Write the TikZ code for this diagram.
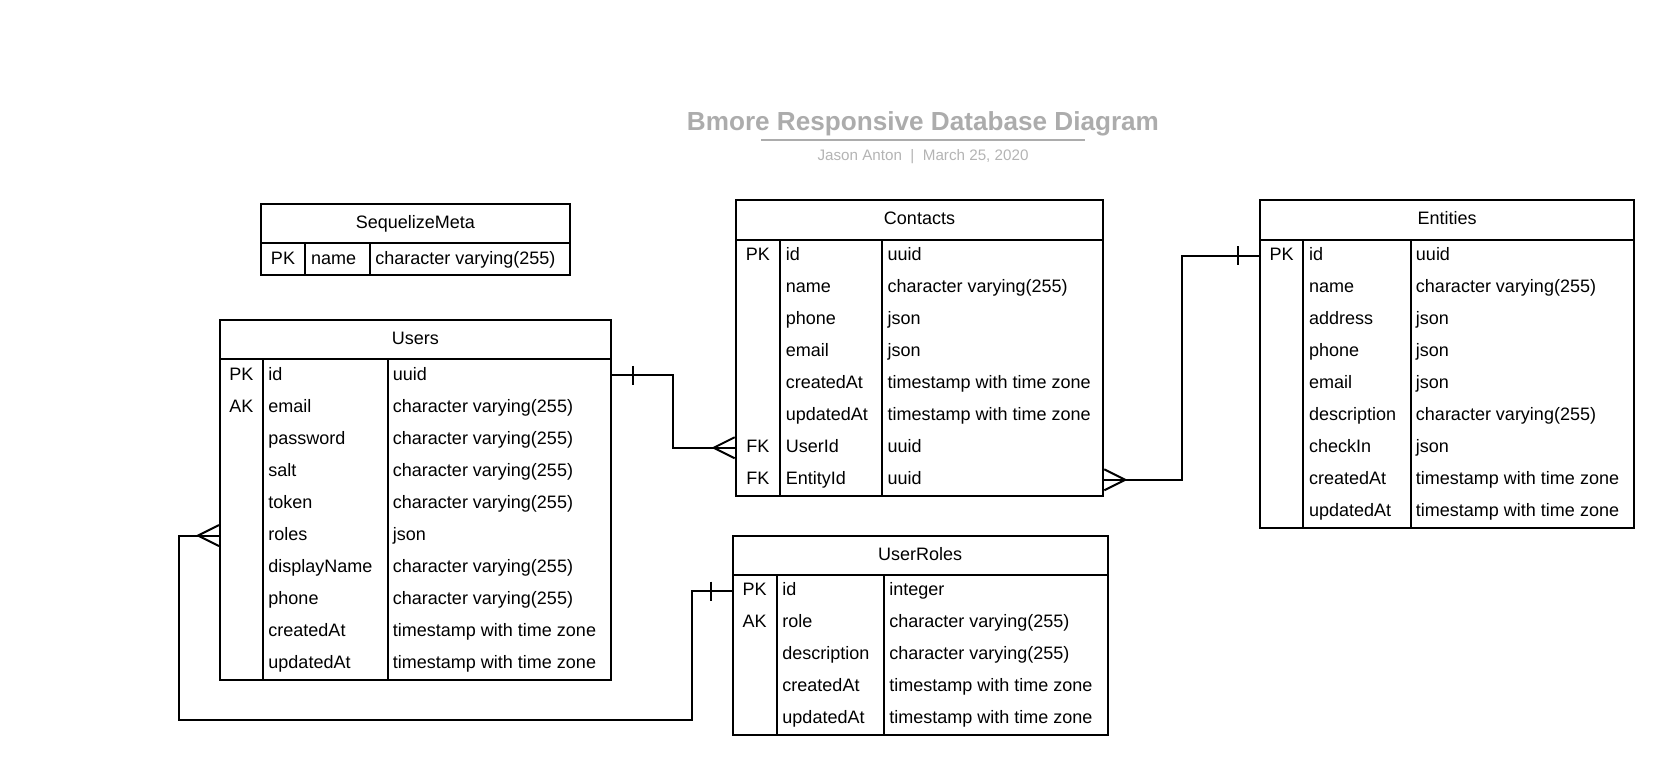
\documentclass[tikz,border=0pt]{standalone}
\usepackage{fontspec}
\setmainfont{Liberation Sans}
\usetikzlibrary{fit,calc}
\definecolor{titlegray}{RGB}{172,172,172}
\definecolor{subgray}{RGB}{180,180,180}
\tikzset{
  tableline/.style={line width=1.5pt,black},
  tablebox/.style={draw,line width=1.5pt,inner sep=0pt},
  conn/.style={line width=1.5pt,black},
  celltxt/.style={anchor=west,inner sep=0pt,font=\fontsize{13.5}{16}\selectfont,text height=0.716em,text depth=0pt},
  keytxt/.style={anchor=center,inner sep=0pt,font=\fontsize{13.5}{16}\selectfont,text height=0.716em,text depth=0pt},
  headtxt/.style={anchor=center,inner sep=0pt,font=\fontsize{13.5}{16}\selectfont,text height=0.716em,text depth=0pt},
}
\def\erempty{}
% #1 name, #2 left, #3 col1, #4 col2, #5 right, #6 top, #7 header bottom, #8 title, #9 rows
\newcommand{\ertable}[9]{%
  \def\erlist{#9}%
  \foreach \k/\f/\t [count=\i] in \erlist {%
    \pgfmathsetmacro\ery{#7+(\i-0.5)*32.04}%
    \ifx\k\erempty\else
      \node[keytxt] (#1-k\i) at ({(#2+#3)/2},\ery) {\k};
    \fi
    \node[celltxt] (#1-f\i) at (#3+5.5,\ery) {\f};
    \node[celltxt] (#1-t\i) at (#4+5,\ery) {\t};
    \xdef\ernrows{\i}%
  }%
  \pgfmathsetmacro\erbot{#7+\ernrows*32.04}%
  \node[tablebox, fit={(#2,#6) (#5,\erbot)}] (#1) {};
  \draw[tableline] (#2,#7) -- (#5,#7);
  \draw[tableline] (#3,#7) -- (#3,\erbot);
  \draw[tableline] (#4,#7) -- (#4,\erbot);
  \node[headtxt] (#1-head) at ({(#2+#5)/2},{(#6+#7)/2}) {#8};
}
\begin{document}
\begin{tikzpicture}[x=0.75pt,y=-0.75pt]
\useasboundingbox (0,0) rectangle (1674,776);
% title
\node[inner sep=0pt,anchor=center,text=titlegray,font=\fontsize{19.6}{24}\selectfont\bfseries,text height=0.716em,text depth=0pt] (title) at (923,126) {Bmore Responsive Database Diagram};
\coordinate (ulA) at (761,140);
\coordinate (ulB) at (1085,140);
\draw[titlegray,line width=1.5pt] (ulA) -- (ulB);
\node[inner sep=0pt,anchor=center,text=subgray,font=\fontsize{11.4}{14}\selectfont,text height=0.716em,text depth=0pt] (subtitle) at (923,156) {Jason Anton\ \ |\ \ March 25, 2020};

\ertable{meta}{260.7}{305.3}{370}{570}{204}{243.3}{SequelizeMeta}{PK/name/character varying(255)}

\ertable{users}{220}{262.7}{387.7}{610.7}{320}{359.3}{Users}{PK/id/uuid,AK/email/character varying(255),/password/character varying(255),/salt/character varying(255),/token/character varying(255),/roles/json,/displayName/character varying(255),/phone/character varying(255),/createdAt/timestamp with time zone,/updatedAt/timestamp with time zone}

\ertable{contacts}{735.7}{780}{882.3}{1103.3}{200}{239.5}{Contacts}{PK/id/uuid,/name/character varying(255),/phone/json,/email/json,/createdAt/timestamp with time zone,/updatedAt/timestamp with time zone,FK/UserId/uuid,FK/EntityId/uuid}

\ertable{entities}{1260}{1303.3}{1410.7}{1634}{200}{239.5}{Entities}{PK/id/uuid,/name/character varying(255),/address/json,/phone/json,/email/json,/description/character varying(255),/checkIn/json,/createdAt/timestamp with time zone,/updatedAt/timestamp with time zone}

\ertable{userroles}{732.7}{776.7}{884}{1107.7}{535.7}{575}{UserRoles}{PK/id/integer,AK/role/character varying(255),/description/character varying(255),/createdAt/timestamp with time zone,/updatedAt/timestamp with time zone}

% connector 1: Users.id -> Contacts.UserId
\coordinate (b1) at (673.3,0);
\coordinate (p1a) at (users.east |- users-f1.west);
\coordinate (p1b) at (contacts.west |- contacts-f7.west);
\draw[conn] (p1a) -| (b1 |- p1b) -- (p1b);
\draw[conn] ($(p1a)+(21,-9.5)$) -- ($(p1a)+(21,9.5)$);
\draw[conn] ($(p1b)+(0,-10.5)$) -- ($(p1b)+(-21,0)$) -- ($(p1b)+(0,10.5)$);

% connector 2: Contacts.EntityId -> Entities.id
\coordinate (b2) at (1181.7,0);
\coordinate (p2a) at (contacts.east |- contacts-f8.west);
\coordinate (p2b) at (entities.west |- entities-f1.west);
\draw[conn] (p2a) -| (b2 |- p2b) -- (p2b);
\draw[conn] ($(p2b)+(-21,-9.5)$) -- ($(p2b)+(-21,9.5)$);
\draw[conn] ($(p2a)+(0,-10.5)$) -- ($(p2a)+(21,0)$) -- ($(p2a)+(0,10.5)$);

% connector 3: Users.roles -> UserRoles.id
\coordinate (b3a) at (179.4,719.8);
\coordinate (b3b) at (692,719.8);
\coordinate (p3a) at (users.west |- users-f6.west);
\coordinate (p3b) at (userroles.west |- userroles-f1.west);
\draw[conn] (p3a) -| (b3a) -| (b3b |- p3b) -- (p3b);
\draw[conn] ($(p3b)+(-21,-9.5)$) -- ($(p3b)+(-21,9.5)$);
\draw[conn] ($(p3a)+(0,-10.5)$) -- ($(p3a)+(-21,0)$) -- ($(p3a)+(0,10.5)$);
\end{tikzpicture}
\end{document}
